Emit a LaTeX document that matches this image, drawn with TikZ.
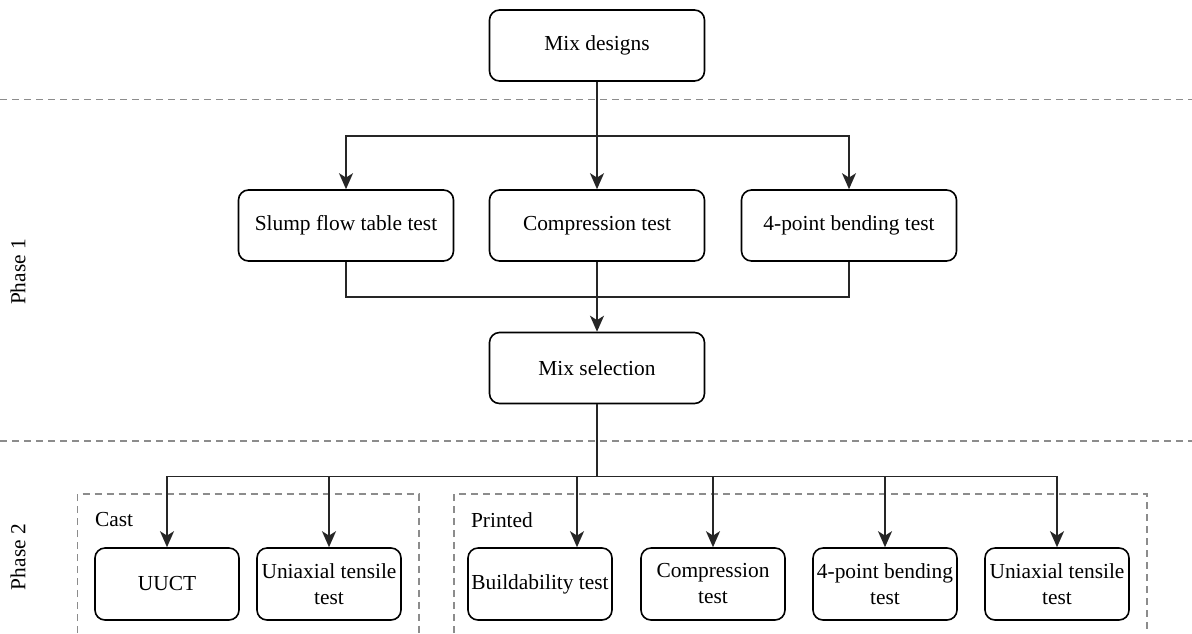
\documentclass[tikz,border=0pt]{standalone}
\usepackage{fontspec}
\setmainfont{Liberation Serif}
\usetikzlibrary{arrows.meta}
\begin{document}
\begin{tikzpicture}[x=0.5pt, y=-0.5pt,
    font=\fontsize{10.7}{13}\selectfont,
    bigbox/.style={draw, line width=0.8pt, rounded corners=5pt, minimum width=107.5pt, minimum height=35.5pt, align=center},
    testbox/.style={draw, line width=0.8pt, rounded corners=5pt, minimum width=72pt, minimum height=36pt, inner sep=1pt, align=center},
    arr/.style={line width=0.9pt, draw=black!85, -{Stealth[length=8pt, width=7pt, inset=2.2pt]}},
    link/.style={line width=0.9pt, draw=black!85},
    sep/.style={line width=0.75pt, draw=black!45, dash pattern=on 3.5pt off 2.5pt}]
    \useasboundingbox (0,0) rectangle (1192,633);
    % Phase separators
    \draw[sep] (0,99.5) -- (1192,99.5);
    \draw[sep] (0,441) -- (1192,441);
    \node[rotate=90] (ph1) at (18,272) {Phase 1};
    \node[rotate=90] (ph2) at (18,557) {Phase 2};
    % Groups in phase 2
    \draw[sep] (77.5,633) -- (77.5,494) -- (419,494) -- (419,633);
    \draw[sep] (454,633) -- (454,494) -- (1147,494) -- (1147,633);
    \node[anchor=west] (cast) at (88,520) {Cast};
    \node[anchor=west] (printed) at (464,520) {Printed};
    % Phase 1 boxes
    \node[bigbox] (mix) at (597,45.5) {Mix designs};
    \node[bigbox] (slump) at (346,225.5) {Slump flow table test};
    \node[bigbox] (comp) at (597,225.5) {Compression test};
    \node[bigbox] (bend) at (849,225.5) {4-point bending test};
    \node[bigbox] (sel) at (597,368) {Mix selection};
    % Phase 2 boxes
    \node[testbox] (uuct) at (167,584) {UUCT};
    \node[testbox] (unicast) at (329,584) {Uniaxial tensile\\test};
    \node[testbox] (build) at (540,584) {Buildability test};
    \node[testbox] (comptwo) at (713,584) {Compression\\test};
    \node[testbox] (bendtwo) at (885,584) {4-point bending\\test};
    \node[testbox] (uniprint) at (1057,584) {Uniaxial tensile\\test};
    % Connectors
    \coordinate (split) at (597,136);
    \coordinate (merge) at (597,297);
    \coordinate (fork) at (597,476.5);
    \draw[arr] (mix) -- (comp);
    \draw[arr] (split) -| (slump);
    \draw[arr] (split) -| (bend);
    \draw[link] (slump) |- (merge);
    \draw[link] (bend) |- (merge);
    \draw[arr] (comp) -- (sel);
    \draw[link] (sel) -- (fork);
    \draw[arr] (fork) -| (uuct);
    \draw[arr] (fork) -| (unicast);
    \draw[arr] (fork) -| ([xshift=18.5pt]build.north);
    \draw[arr] (fork) -| (comptwo);
    \draw[arr] (fork) -| (bendtwo);
    \draw[arr] (fork) -| (uniprint);
\end{tikzpicture}
\end{document}
